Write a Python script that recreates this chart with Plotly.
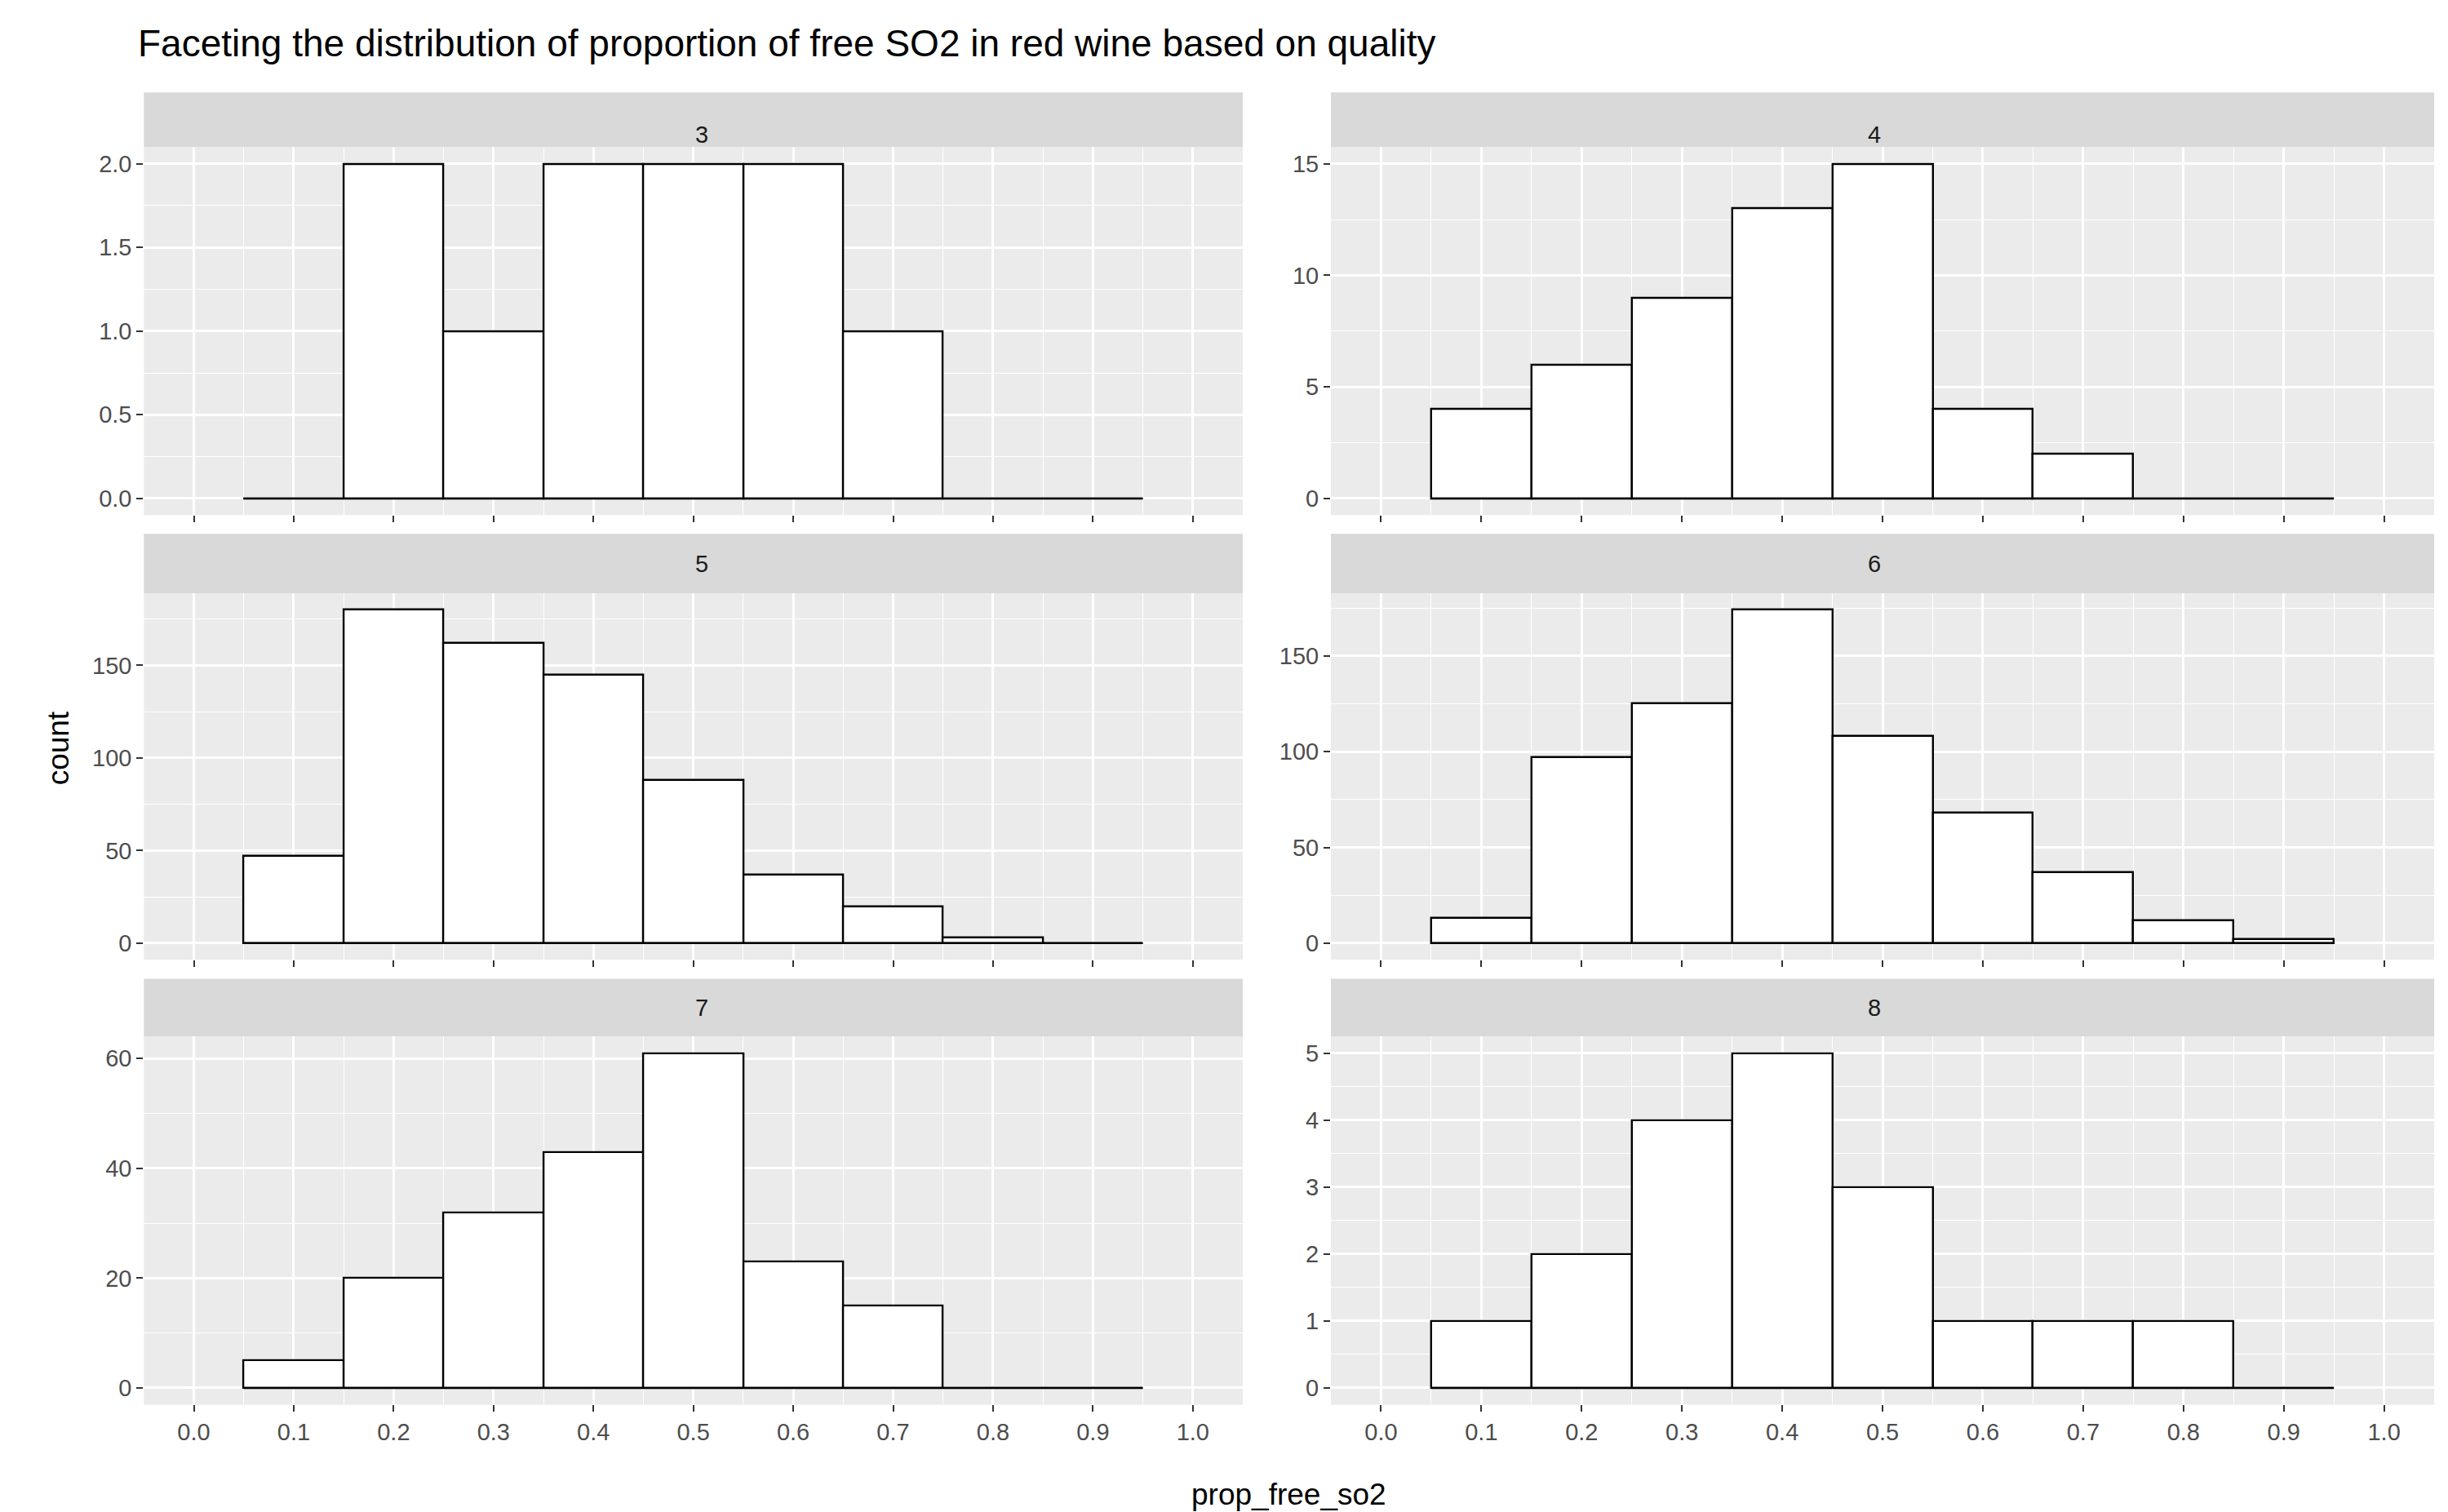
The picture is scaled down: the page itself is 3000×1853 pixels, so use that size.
import plotly.graph_objects as go

# bin centres of the histogram (binwidth 0.1)
bin_centers = [0.1, 0.2, 0.3, 0.4, 0.5, 0.6, 0.7, 0.8, 0.9]
bin_width = 0.1

qualities = ["3", "4", "5", "6", "7", "8"]
counts_q3 = [0, 2, 1, 2, 2, 2, 1, 0, 0]
counts_q4 = [4, 6, 9, 13, 15, 4, 2, 0, 0]
counts_q5 = [47, 180, 162, 145, 88, 37, 20, 3, 0]
counts_q6 = [13, 97, 125, 174, 108, 68, 37, 12, 2]
counts_q7 = [5, 20, 32, 43, 61, 23, 15, 0, 0]
counts_q8 = [1, 2, 4, 5, 3, 1, 1, 1, 0]
all_counts = [counts_q3, counts_q4, counts_q5, counts_q6, counts_q7, counts_q8]
y_dticks = [0.5, 5, 50, 50, 20, 1]

x_ticks = [i / 10 for i in range(11)]

W, H = 3000, 1853
col_domains = [(0.0561, 0.505), (0.541, 0.9917)]
row_plot = [(0.6636, 0.9071), (0.3695, 0.612), (0.0753, 0.3189)]
row_strip = [(0.9071, 0.9432), (0.612, 0.6512), (0.3189, 0.357)]

FONT = "Liberation Sans, Arial, sans-serif"
TICK = "#4d4d4d"
TS = 29

fig = go.Figure()
shapes = []
annotations = []

for i, (q, counts) in enumerate(zip(qualities, all_counts)):
    r, c = divmod(i, 2)
    n = i + 1
    xa = "x" if n == 1 else f"x{n}"
    ya = "y" if n == 1 else f"y{n}"
    fig.add_trace(go.Bar(
        x=bin_centers, y=counts, width=bin_width,
        marker=dict(color="white", line=dict(color="black", width=2.4)),
        xaxis=xa, yaxis=ya, showlegend=False,
    ))
    edges = [bin_centers[0] - bin_width / 2, bin_centers[-1] + bin_width / 2]
    fig.add_trace(go.Scatter(
        x=edges, y=[0, 0], mode="lines", line=dict(color="black", width=2.4),
        xaxis=xa, yaxis=ya, showlegend=False, hoverinfo="skip",
    ))
    ymax = max(counts)
    xkey = "xaxis" if n == 1 else f"xaxis{n}"
    ykey = "yaxis" if n == 1 else f"yaxis{n}"
    dt = y_dticks[i]
    fig.update_layout({
        xkey: dict(
            domain=list(col_domains[c]), anchor=ya, range=[-0.05, 1.05],
            tickvals=x_ticks, ticktext=[f"{v:.1f}" for v in x_ticks],
            showticklabels=(r == 2), ticks="outside", ticklen=8, tickcolor="#333333",
            tickwidth=2, tickfont=dict(size=TS, color=TICK, family=FONT),
            showgrid=True, gridcolor="white", gridwidth=2.8, zeroline=False,
            minor=dict(dtick=0.1, tick0=0.05, showgrid=True, gridcolor="white", gridwidth=1.3),
            automargin=False, fixedrange=True,
        ),
        ykey: dict(
            domain=list(row_plot[r]), anchor=xa, range=[-0.05 * ymax, 1.05 * ymax],
            dtick=dt, tick0=0, tickformat=".1f" if dt < 1 else "d",
            ticks="outside", ticklen=8, tickcolor="#333333", tickwidth=2,
            tickfont=dict(size=TS, color=TICK, family=FONT),
            showgrid=True, gridcolor="white", gridwidth=2.8, zeroline=False,
            minor=dict(dtick=dt / 2, tick0=dt / 2, showgrid=True, gridcolor="white", gridwidth=1.3),
            automargin=False, fixedrange=True,
        ),
    })
    shapes.append(dict(type="rect", xref="paper", yref="paper", layer="below",
                       x0=col_domains[c][0], x1=col_domains[c][1],
                       y0=row_plot[r][0], y1=row_plot[r][1],
                       fillcolor="#ebebeb", line=dict(width=0)))
    shapes.append(dict(type="rect", xref="paper", yref="paper",
                       x0=col_domains[c][0], x1=col_domains[c][1],
                       y0=row_strip[r][0], y1=row_strip[r][1],
                       fillcolor="#d9d9d9", line=dict(width=0)))
    annotations.append(dict(text=q, xref="paper", yref="paper", showarrow=False,
                            x=sum(col_domains[c]) / 2, y=sum(row_strip[r]) / 2,
                            font=dict(size=TS, color="#1a1a1a", family=FONT)))

annotations += [
    dict(text="prop_free_so2", xref="paper", yref="paper", showarrow=False,
         x=(col_domains[0][0] + col_domains[1][1]) / 2, y=0.004, yanchor="bottom",
         font=dict(size=37, color="black", family=FONT)),
    dict(text="count", xref="paper", yref="paper", showarrow=False, textangle=-90,
         x=0.0135, y=(row_plot[2][0] + row_strip[0][1]) / 2,
         font=dict(size=37, color="black", family=FONT)),
    dict(text="Faceting the distribution of proportion of free SO2 in red wine based on quality",
         xref="paper", yref="paper", showarrow=False, x=0.053, xanchor="left",
         y=0.9755, yanchor="middle", font=dict(size=46, color="black", family=FONT)),
]

fig.update_layout(
    width=W, height=H, margin=dict(l=0, r=0, t=0, b=0),
    paper_bgcolor="white", plot_bgcolor="rgba(0,0,0,0)",
    shapes=shapes, annotations=annotations, bargap=0,
)

fig.write_html("out.html")
